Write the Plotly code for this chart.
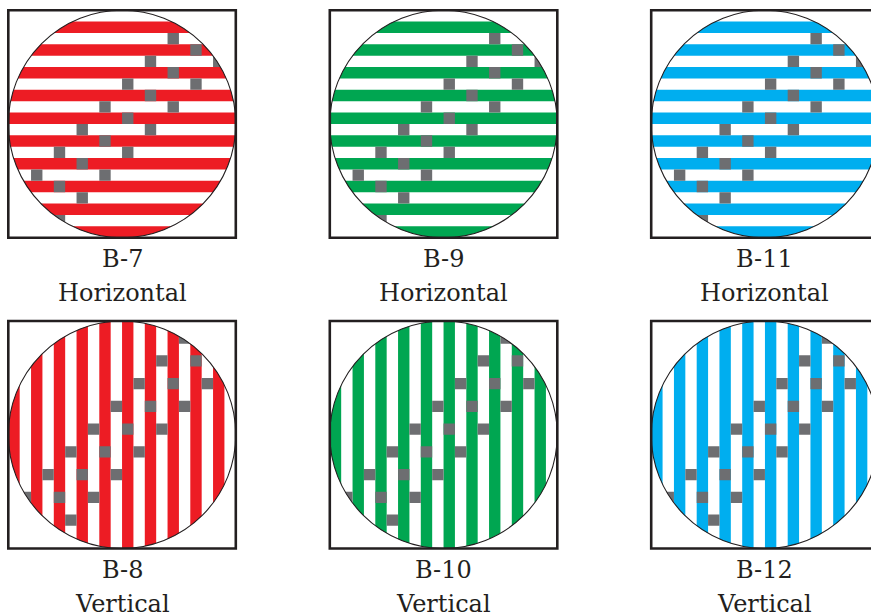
import numpy as np
import plotly.graph_objects as go

# ---------------- data ----------------
panel_names = ["B-7", "B-9", "B-11", "B-8", "B-10", "B-12"]
panel_orient = ["Horizontal", "Horizontal", "Horizontal", "Vertical", "Vertical", "Vertical"]
panel_colors = ["#ED1C24", "#00A651", "#00AEEF", "#ED1C24", "#00A651", "#00AEEF"]
gray_color = "#6D6E71"

# stripe grid: 20 strips of unit width across the circle's diameter
n_strips = 20
colored_strip_index = [0, 2, 4, 6, 8, 10, 12, 14, 16, 18]   # counted from bottom (horizontal) / left (vertical)

# gray squares (column, row counted from the top)
horiz_sq_col = [2, 4, 6, 8, 10, 12, 14,   2, 4, 6, 8, 10, 12, 14, 16,   4, 6, 8, 10, 12, 14, 16, 18]
horiz_sq_row = [14, 12, 10, 8, 6, 4, 2,   17, 15, 13, 11, 9, 7, 5, 3,   18, 16, 14, 12, 10, 8, 6, 4]
vert_sq_col = [1, 3, 5, 7, 9, 11, 13, 15,   4, 6, 8, 10, 12, 14, 16,   5, 7, 9, 11, 13, 15, 17]
vert_sq_row = [15, 13, 11, 9, 7, 5, 3, 1,   15, 13, 11, 9, 7, 5, 3,   17, 15, 13, 11, 9, 7, 5]

# ---------------- layout geometry ----------------
W, H = 871, 616
OFF = 0.0                          # body margin removed by post_script below
unit = 11.375                      # pixels per strip
panel_left_px = [8.3, 329.8, 651.2, 8.3, 329.8, 651.2]
panel_top_px = [10.2, 10.2, 10.2, 321.0, 321.0, 321.0]
pad = 0.35

fig = go.Figure()
shapes = []
annotations = []
layout_axes = {}

theta = np.linspace(0, 2 * np.pi, 241)
circ_x = 10 + 10 * np.cos(theta)
circ_y = 10 + 10 * np.sin(theta)
circle_path = "M " + " L ".join(f"{a:.4f},{b:.4f}" for a, b in zip(circ_x, circ_y)) + " Z"

for i in range(6):
    ax = "" if i == 0 else str(i + 1)
    xref, yref = "x" + ax, "y" + ax
    x0 = panel_left_px[i] - OFF
    ytop = panel_top_px[i] - OFF

    left_px = max(0.0, x0 - pad * unit)
    xr_min = -(x0 - left_px) / unit
    right_px = x0 + (n_strips + pad) * unit
    xr_max = n_strips + pad
    if right_px > W:
        xr_max = xr_min + (W - left_px) / unit
        right_px = W
    top_px = max(0.0, ytop - pad * unit)
    yr_max = n_strips + (ytop - top_px) / unit
    bot_px = ytop + (n_strips + pad) * unit

    layout_axes["xaxis" + ax] = dict(domain=[left_px / W, right_px / W], range=[xr_min, xr_max],
                                     visible=False, fixedrange=True, anchor=yref)
    layout_axes["yaxis" + ax] = dict(domain=[1 - bot_px / H, 1 - top_px / H], range=[-pad, yr_max],
                                     visible=False, fixedrange=True, anchor=xref)
    fig.add_trace(go.Scatter(x=[], y=[], xaxis=xref, yaxis=yref, showlegend=False, hoverinfo="skip"))

    horizontal = panel_orient[i] == "Horizontal"
    col = panel_colors[i]
    # stripes
    for k in colored_strip_index:
        if horizontal:
            shapes.append(dict(type="rect", xref=xref, yref=yref, x0=0, x1=n_strips, y0=k, y1=k + 1,
                               fillcolor=col, line=dict(width=0), layer="above"))
        else:
            shapes.append(dict(type="rect", xref=xref, yref=yref, x0=k, x1=k + 1, y0=0, y1=n_strips,
                               fillcolor=col, line=dict(width=0), layer="above"))
    # gray squares
    cols = horiz_sq_col if horizontal else vert_sq_col
    rows = horiz_sq_row if horizontal else vert_sq_row
    for c, r in zip(cols, rows):
        yb = n_strips - 1 - r
        shapes.append(dict(type="rect", xref=xref, yref=yref, x0=c, x1=c + 1, y0=yb, y1=yb + 1,
                           fillcolor=gray_color, line=dict(width=0), layer="above"))
    # white mask outside the circle
    big = "M -3,-3 L 23,-3 L 23,23 L -3,23 Z "
    shapes.append(dict(type="path", xref=xref, yref=yref, path=big + circle_path, fillrule="evenodd",
                       fillcolor="white", line=dict(width=0), layer="above"))
    # circle outline
    shapes.append(dict(type="circle", xref=xref, yref=yref, x0=0, y0=0, x1=n_strips, y1=n_strips,
                       line=dict(color="#231F20", width=1.1), layer="above"))
    # frame
    shapes.append(dict(type="rect", xref=xref, yref=yref, x0=0, y0=0, x1=n_strips, y1=n_strips,
                       line=dict(color="#231F20", width=2.6), layer="above"))

    # labels
    cx = (x0 + n_strips * unit / 2) / W
    label_y1 = ytop + n_strips * unit + 21.0
    label_y2 = ytop + n_strips * unit + 55.0
    annotations.append(dict(text=panel_names[i], xref="paper", yref="paper", x=cx, y=1 - label_y1 / H,
                            xanchor="center", yanchor="middle", showarrow=False,
                            font=dict(family="DejaVu Serif", size=24, color="#231F20")))
    annotations.append(dict(text=panel_orient[i], xref="paper", yref="paper", x=cx, y=1 - label_y2 / H,
                            xanchor="center", yanchor="middle", showarrow=False,
                            font=dict(family="DejaVu Serif", size=24, color="#231F20")))

fig.update_layout(width=W, height=H, margin=dict(l=0, r=0, t=0, b=0),
                  paper_bgcolor="white", plot_bgcolor="white", hovermode=False,
                  shapes=shapes, annotations=annotations, showlegend=False, **layout_axes)

fig.write_html("out.html", config={"displayModeBar": False, "staticPlot": True},
               post_script="document.body.style.margin='0';document.body.style.overflow='hidden';")
